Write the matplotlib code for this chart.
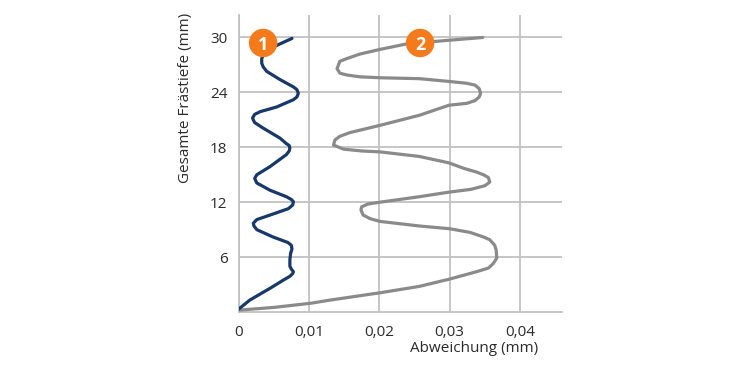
import matplotlib
matplotlib.use("Agg")
import matplotlib.pyplot as plt

# depth (mm) vs deviation (mm)
depth_1 = [0.3, 1.3, 2.6, 3.5, 3.9, 4.2, 4.4, 4.7, 5.0, 5.7, 6.4, 6.9, 7.3, 7.6, 8.2,
           9.0, 9.4, 9.7, 10.1, 10.6, 11.3, 11.7, 12.05, 12.3, 12.6, 13.3, 14.1, 14.6,
           15.0, 15.9, 17.2, 17.6, 17.9, 18.2, 18.4, 19.0, 20.1, 20.7, 21.0, 21.2, 21.6,
           21.9, 22.4, 23.2, 23.5, 23.9, 24.3, 24.6, 25.4, 26.3, 26.8, 27.2, 27.7, 28.5,
           29.2, 29.9]
dev_1 = [0.0, 0.0016, 0.0045, 0.0064, 0.0073, 0.0077, 0.0078, 0.0075, 0.0073, 0.0073,
         0.0074, 0.0076, 0.0075, 0.0070, 0.0049, 0.0026, 0.0022, 0.0021, 0.0026, 0.0045,
         0.0071, 0.0077, 0.0078, 0.0075, 0.0068, 0.0045, 0.0026, 0.0023, 0.0026, 0.0045,
         0.0068, 0.0072, 0.0073, 0.0072, 0.0068, 0.0059, 0.0035, 0.0023, 0.0021, 0.0020,
         0.0023, 0.0031, 0.0054, 0.0078, 0.0083, 0.0085, 0.0083, 0.0078, 0.0059, 0.0040,
         0.0035, 0.0033, 0.0033, 0.0038, 0.0056, 0.0076]

depth_2 = [0.2, 0.5, 0.95, 1.3, 2.1, 2.8, 3.6, 4.4, 4.8, 5.3, 5.9, 6.8, 7.3, 7.9, 8.2,
           8.7, 9.1, 9.4, 9.9, 10.2, 10.6, 11.15, 11.5, 11.8, 12.0, 12.6, 13.1, 13.4,
           13.8, 14.2, 14.7, 15.0, 15.3, 15.7, 16.3, 17.0, 17.5, 17.6, 17.8, 18.25, 18.8,
           19.2, 19.6, 20.4, 21.5, 22.6, 22.8, 23.1, 23.5, 23.9, 24.4, 24.8, 25.0, 25.2,
           25.5, 25.6, 25.7, 25.9, 26.1, 26.6, 27.4, 27.7, 28.2, 28.7, 29.3, 29.7, 30.0]
dev_2 = [0.0, 0.0050, 0.0102, 0.0130, 0.0201, 0.0257, 0.0300, 0.0338, 0.0355, 0.0362,
         0.0367, 0.0366, 0.0364, 0.0357, 0.0348, 0.0329, 0.0300, 0.0257, 0.0201, 0.0187,
         0.0177, 0.0174, 0.0175, 0.0184, 0.0201, 0.0257, 0.0299, 0.0330, 0.0350, 0.0357,
         0.0355, 0.0348, 0.0338, 0.0320, 0.0299, 0.0257, 0.0201, 0.0175, 0.0149, 0.0135,
         0.0137, 0.0144, 0.0158, 0.0201, 0.0257, 0.0299, 0.0324, 0.0336, 0.0342, 0.0344,
         0.0342, 0.0336, 0.0324, 0.0299, 0.0257, 0.0201, 0.0173, 0.0154, 0.0144, 0.0140,
         0.0144, 0.0154, 0.0173, 0.0201, 0.0239, 0.0299, 0.0347]

x_ticks = [0, 0.01, 0.02, 0.03, 0.04]
x_tick_labels = ["0", "0,01", "0,02", "0,03", "0,04"]
y_ticks = [6, 12, 18, 24, 30]
y_tick_labels = ["6", "12", "18", "24", "30"]

badge_labels = ["1", "2"]
badge_x = [0.0035, 0.0258]
badge_y = [29.4, 29.4]

plt.rcParams["font.family"] = ["Open Sans", "DejaVu Sans"]

NAVY = "#17386a"
GRAY = "#8a8a8a"
ORANGE = "#f47a1c"
GRID = "#c2c2c2"
TEXT = "#2b2b2b"

fig = plt.figure(figsize=(7.5, 3.75), dpi=100)
ax = fig.add_axes([0.318, 0.168, 0.4317, 0.793])

ax.plot(dev_2, depth_2, color=GRAY, linewidth=2.3, solid_capstyle="round", solid_joinstyle="round", zorder=3)
ax.plot(dev_1, depth_1, color=NAVY, linewidth=2.3, solid_capstyle="round", solid_joinstyle="round", zorder=4)

ax.scatter(badge_x, badge_y, s=420, color=ORANGE, edgecolors="none", zorder=5)
for lbl, bx, by in zip(badge_labels, badge_x, badge_y):
    ax.text(bx, by, lbl, color="white", fontsize=13, fontweight="bold", ha="center", va="center_baseline", zorder=6)

ax.set_xlim(0, 0.046)
ax.set_ylim(0, 32.5)
ax.set_xticks(x_ticks)
ax.set_xticklabels(x_tick_labels)
ax.set_yticks(y_ticks)
ax.set_yticklabels(y_tick_labels)
ax.tick_params(length=0, labelsize=11, labelcolor=TEXT)
ax.tick_params(axis="x", pad=9)
ax.tick_params(axis="y", pad=8)
ax.grid(color=GRID, linewidth=1.3)
ax.set_axisbelow(True)
for side in ["top", "right"]:
    ax.spines[side].set_visible(False)
for side in ["left", "bottom"]:
    ax.spines[side].set_color(GRID)
    ax.spines[side].set_linewidth(1.3)

fig.text(538 / 750, 1 - 349 / 375, "Abweichung (mm)", fontsize=11, color=TEXT, ha="right", va="center")
fig.text(185.5 / 750, 1 - 13 / 375, "Gesamte Frästiefe (mm)", fontsize=11, color=TEXT, rotation=90, ha="center", va="top")

fig.savefig("out.png", dpi=100)
